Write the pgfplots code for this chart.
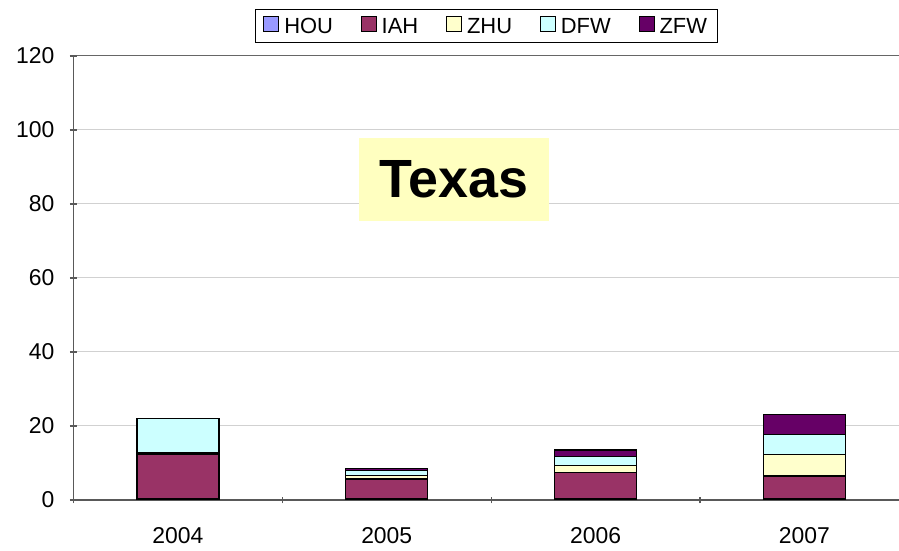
\documentclass[border=0pt]{standalone}
\usepackage{pgfplots}
\pgfplotsset{compat=1.18}
\usepackage{fontspec}
\setmainfont{Liberation Sans}
\definecolor{cHOU}{HTML}{9999FF}
\definecolor{cIAH}{HTML}{993366}
\definecolor{cZHU}{HTML}{FFFFCC}
\definecolor{cDFW}{HTML}{CCFFFF}
\definecolor{cZFW}{HTML}{660066}
\definecolor{boxy}{HTML}{FFFFC0}
\begin{document}
\begin{tikzpicture}
\begin{axis}[
  at={(0,0)}, anchor=south west,
  scale only axis, width=825.5bp, height=444bp,
  ybar stacked, bar width=82bp,
  xmin=-0.5, xmax=3.453, ymin=0, ymax=120,
  ytick={0,20,...,120},
  xtick={0,1,2,3}, xticklabels={2004,2005,2006,2007},
  minor xtick={-0.5,0.5,1.5,2.5},
  major x tick style={draw=none},
  minor tick length=7bp, major tick length=7bp,
  tick align=outside,
  axis x line=bottom, axis y line=left,
  axis line style={-, draw=black!65, line width=1.2bp},
  tick style={draw=black!65, line width=1.2bp},
  minor tick style={draw=black!65, line width=1.2bp},
  ymajorgrids, grid style={draw=black!18, line width=1bp},
  extra y ticks={120}, extra y tick labels={},
  extra y tick style={grid style={draw=black!60, line width=1bp}},
  /pgf/number format/assume math mode=true,
  ticklabel style={font=\fontsize{23}{27}\selectfont},
  yticklabel style={xshift=-12bp},
  xticklabel style={yshift=-20bp},
  every axis plot/.append style={draw=black, line width=1.2bp},
  legend style={at={(0.5,1)}, anchor=south, yshift=13bp, draw=black, line width=1bp,
    font=\fontsize{22}{26}\selectfont, legend columns=5,
    nodes={text height=16bp, text depth=1bp},
    /tikz/every odd column/.append style={column sep=3bp},
    /tikz/every even column/.append style={column sep=26bp},
    inner xsep=8bp, inner ysep=6bp},
  legend image code/.code={\draw[#1, line width=0.8bp] (0bp,-5bp) rectangle (15bp,10bp);},
]
\addplot[fill=cHOU] coordinates {(0,0.5) (1,0.5) (2,0.5) (3,0.5)};
\addplot[fill=cIAH] coordinates {(0,11.8) (1,5.2) (2,7.0) (3,6.0)};
\addplot[fill=cZHU] coordinates {(0,0.4) (1,1.0) (2,1.8) (3,5.7)};
\addplot[fill=cDFW] coordinates {(0,9.3) (1,1.3) (2,2.5) (3,5.6)};
\addplot[fill=cZFW] coordinates {(0,0) (1,0.6) (2,1.7) (3,5.2)};
\legend{HOU,IAH,ZHU,DFW,ZFW}
\node[fill=boxy, minimum width=190bp, minimum height=83bp, inner sep=0pt,
  font=\fontsize{54}{60}\selectfont\bfseries] at (axis cs:1.322,86.6) {Texas};
\end{axis}
\pgfresetboundingbox
\path[use as bounding box] (-73.5bp,-51bp) rectangle (825.5bp,500bp);
\end{tikzpicture}
\end{document}
